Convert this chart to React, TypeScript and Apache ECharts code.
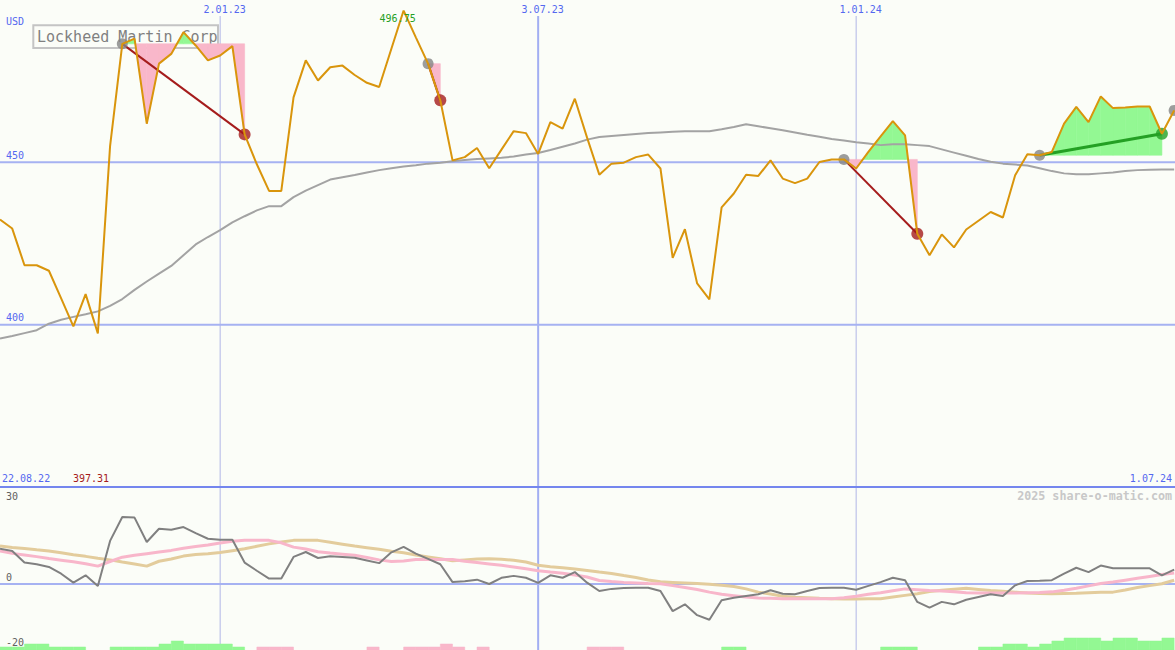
import React, { useEffect, useRef } from "react";
import * as echarts from "echarts";

// ---------- data ----------
const TITLE = "Lockheed Martin Corp";
const CURRENCY = "USD";
const WATERMARK = "2025 share-o-matic.com";
const FIRST_WEEK = "2022-08-29"; // date of the first weekly point
const PERIOD_START_LABEL = "22.08.22";
const PERIOD_END = "2024-07-01";
const PERIOD_END_LABEL = "1.07.24";
const DATE_TICKS = ["2023-01-02", "2023-07-03", "2024-01-01"];
const DATE_TICK_LABELS = ["2.01.23", "3.07.23", "1.01.24"];
const PRICE_TICKS = [450, 400];
const IND_TICKS = [30, 0, -20];

// weekly close
const PRICE = [
  432.4, 429.6, 418.3, 418.3, 416.6, 408.1, 399.5, 409.4, 397.31, 455.0,
  486.5, 488.1, 461.9, 480.4, 483.4, 490.1, 486.0, 481.4, 482.9, 485.8,
  458.6, 449.4, 441.2, 441.2, 470.0, 481.4, 475.2, 479.3, 479.8, 476.9,
  474.5, 473.2, 485.0, 496.75, 488.5, 480.4, 469.1, 450.6, 451.6, 454.4,
  448.2, 453.9, 459.6, 459.0, 452.6, 462.4, 460.4, 469.6, 457.6, 446.2,
  449.6, 449.9, 451.6, 452.4, 448.1, 420.6, 429.4, 412.7, 407.8, 436.1,
  440.4, 446.2, 445.8, 450.6, 445.0, 443.6, 445.0, 450.1, 450.9, 450.9,
  448.1, 453.2, 458.0, 462.7, 458.3, 428.0, 421.4, 427.8, 423.8, 429.3,
  432.0, 434.7, 433.0, 446.0, 452.5, 452.2, 453.2, 461.9, 467.1, 462.4,
  470.3, 466.7, 466.9, 467.2, 467.2, 458.8, 466.0,
];

// long moving average (grey)
const MOVING_AVG = [
  395.7, 396.5, 397.4, 398.3, 400.3, 401.5, 402.4, 403.2, 404.1, 405.8,
  407.9, 410.7, 413.3, 415.7, 418.1, 421.4, 424.7, 427.0, 429.1, 431.5,
  433.4, 435.2, 436.5, 436.5, 439.3, 441.3, 443.0, 444.7, 445.4, 446.1,
  446.9, 447.6, 448.2, 448.7, 449.1, 449.6, 449.9, 450.3, 450.7, 451.0,
  451.2, 451.4, 451.8, 452.4, 452.9, 453.8, 454.8, 455.8, 457.0, 457.8,
  458.1, 458.4, 458.7, 459.0, 459.2, 459.4, 459.6, 459.6, 459.6, 460.2,
  460.9, 461.7, 461.1, 460.5, 459.9, 459.2, 458.5, 457.9, 457.2, 456.7,
  456.2, 455.8, 455.3, 455.6, 455.6, 455.3, 455.0, 454.0, 453.0, 452.0,
  451.0, 450.2, 449.6, 449.3, 449.0, 448.2, 447.3, 446.6, 446.3, 446.3,
  446.6, 446.9, 447.3, 447.6, 447.7, 447.8, 447.8,
];

// lower panel: momentum (grey), fast average (pink), slow average (tan)
const MOMENTUM = [
  13.0, 12.2, 7.9, 7.3, 6.3, 3.8, 0.5, 3.2, -0.7, 15.9,
  24.7, 24.5, 15.5, 20.4, 20.0, 21.0, 18.8, 16.7, 16.3, 16.3,
  7.9, 4.9, 2.0, 2.0, 10.0, 11.8, 9.6, 10.2, 10.0, 9.7,
  8.7, 7.7, 11.7, 13.7, 11.2, 9.3, 7.3, 0.7, 1.0, 1.6,
  0.0, 2.3, 3.0, 2.3, 0.4, 3.2, 2.3, 4.4, 0.5, -2.6,
  -1.8, -1.5, -1.4, -1.4, -2.6, -10.0, -7.5, -11.5, -13.2, -6.0,
  -5.1, -4.4, -3.8, -2.3, -3.6, -3.8, -2.6, -1.5, -1.4, -1.4,
  -2.1, -0.7, 0.7, 2.3, 1.4, -6.6, -8.7, -6.6, -7.5, -5.8,
  -4.8, -3.8, -4.4, -0.5, 1.1, 1.2, 1.4, 3.8, 6.0, 4.4,
  6.8, 5.8, 5.8, 5.8, 5.8, 3.2, 5.3,
];
const MOMENTUM_FAST = [
  12.2, 11.3, 10.7, 10.1, 9.4, 8.8, 8.2, 7.5, 6.6, 8.3,
  9.9, 10.6, 11.2, 11.8, 12.4, 13.2, 13.8, 14.4, 15.1, 15.8,
  16.1, 16.1, 16.1, 15.2, 13.6, 12.9, 11.9, 11.4, 11.0, 10.6,
  9.8, 8.9, 8.3, 8.5, 9.0, 9.0, 9.0, 9.0, 8.4, 7.9,
  7.4, 6.9, 6.3, 5.6, 4.9, 4.4, 4.0, 3.3, 2.6, 1.3,
  0.9, 0.6, 0.4, 0.2, 0.1, -0.6, -1.3, -2.0, -3.0, -3.8,
  -4.3, -4.8, -5.2, -5.3, -5.4, -5.4, -5.4, -5.4, -5.4, -5.1,
  -4.5, -3.8, -3.2, -2.5, -1.8, -2.1, -2.4, -2.6, -2.9, -3.2,
  -3.3, -3.3, -3.3, -3.3, -3.2, -3.1, -2.9, -2.3, -1.6, -0.7,
  0.2, 0.7, 1.4, 2.1, 2.8, 3.5, 4.1,
];
const MOMENTUM_SLOW = [
  14.0, 13.5, 13.1, 12.6, 12.2, 11.5, 10.8, 10.2, 9.5, 8.9,
  8.1, 7.4, 6.6, 8.4, 9.2, 10.3, 10.9, 11.2, 11.6, 12.3,
  13.0, 13.9, 14.8, 15.5, 16.1, 16.1, 16.1, 15.4, 14.7, 14.0,
  13.4, 12.8, 12.1, 11.5, 10.7, 10.0, 9.3, 8.6, 8.9, 9.2,
  9.3, 9.1, 8.8, 8.1, 6.9, 6.4, 6.0, 5.5, 5.0, 4.4,
  3.9, 3.1, 2.4, 1.5, 0.8, 0.6, 0.4, 0.2, -0.1, -0.5,
  -0.9, -1.8, -3.0, -3.7, -4.5, -4.9, -5.1, -5.3, -5.4, -5.5,
  -5.5, -5.4, -5.4, -4.8, -4.2, -3.6, -2.8, -2.3, -1.9, -1.6,
  -2.0, -2.4, -2.7, -3.0, -3.3, -3.5, -3.6, -3.5, -3.4, -3.2,
  -3.0, -3.0, -2.2, -1.3, -0.6, 0.1, 1.4,
];
// signal strength per week interval (+ green, - pink)
const SIGNAL_BARS = [
  1, 1, 2, 2, 1, 1, 1, 0, 0, 1,
  1, 1, 1, 2, 3, 2, 2, 2, 2, 1,
  0, -1, -1, -1, 0, 0, 0, 0, 0, 0,
  -1, 0, 0, -1, -1, -1, -2, -1, 0, -1,
  0, 0, 0, 0, 0, 0, 0, 0, -1, -1,
  -1, 0, 0, 0, 0, 0, 0, 0, 0, 1,
  1, 0, 0, 0, 0, 0, 0, 0, 0, 0,
  0, 0, 1, 1, 1, 0, 0, 0, 0, 0,
  1, 1, 2, 2, 1, 2, 3, 4, 4, 4,
  3, 4, 4, 3, 3, 4,
];
// trades: week index of entry and exit
const TRADE_ENTRIES = [10, 35, 69, 85];
const TRADE_EXITS = [20, 36, 75, 95];
const OPEN_ENTRIES = [96];

// ---------- styles ----------
const BG = "#fbfdf8";
const ORANGE = "#d9950c";
const MA_GREY = "#a3a3a3";
const MOM_GREY = "#808080";
const PINK_LINE = "#f8b6ca";
const TAN_LINE = "#e3cc9c";
const FILL_GREEN = "#93f893";
const FILL_PINK = "#f9b7ca";
const GRID_BLUE = "#a6b2f2";
const SEP_BLUE = "#7486ee";
const LABEL_BLUE = "#5468f0";
const LOSS_RED = "#a51c1c";
const GAIN_GREEN = "#24a024";
const MONO = '"DejaVu Sans Mono", monospace';

const DAY = 86400000;
const weekOf = (d: string) => (Date.parse(d) - Date.parse(FIRST_WEEK)) / (7 * DAY);

export default function App() {
  const ref = useRef<HTMLDivElement>(null);

  useEffect(() => {
    const chart = echarts.init(ref.current!, null, { renderer: "svg" });
    const xMax = weekOf(PERIOD_END) + 0.07;
    const pts = (arr: number[]) => arr.map((v, i) => [i, v]);

    const fillRender = (params: any, api: any) => {
      const e = api.value(0);
      const x = api.value(1);
      const level = api.value(2);
      const children: any[] = [];
      const poly = (p: number[][], pos: boolean) => {
        const c = pos ? FILL_GREEN : FILL_PINK;
        children.push({
          type: "polygon",
          shape: { points: p.map((q) => api.coord(q)) },
          style: { fill: c, stroke: c, lineWidth: 0.6 },
        });
      };
      for (let j = e; j < x; j++) {
        const a = PRICE[j] - level;
        const b = PRICE[j + 1] - level;
        if ((a >= 0 && b >= 0) || (a <= 0 && b <= 0)) {
          poly([[j, level], [j, PRICE[j]], [j + 1, PRICE[j + 1]], [j + 1, level]], a + b > 0);
        } else {
          const xc = j + a / (a - b);
          poly([[j, level], [j, PRICE[j]], [xc, level]], a > 0);
          poly([[xc, level], [j + 1, PRICE[j + 1]], [j + 1, level]], b > 0);
        }
      }
      return { type: "group", children };
    };

    const barRender = (params: any, api: any) => {
      const k = api.value(0);
      const lvl = api.value(1);
      const p0 = api.coord([k, 0]);
      const p1 = api.coord([k + 1, Math.abs(lvl)]);
      return {
        type: "rect",
        shape: { x: p0[0], y: p1[1], width: p1[0] - p0[0], height: p0[1] - p1[1] },
        style: { fill: lvl > 0 ? FILL_GREEN : FILL_PINK, stroke: lvl > 0 ? FILL_GREEN : FILL_PINK, lineWidth: 0.5 },
      };
    };

    const tradeLines = TRADE_ENTRIES.map((e, t) => {
      const x = TRADE_EXITS[t];
      const gain = PRICE[x] > PRICE[e];
      return {
        type: "line",
        xAxisIndex: 0,
        yAxisIndex: 0,
        z: 3,
        data: [[e, PRICE[e]], [x, PRICE[x]]],
        showSymbol: false,
        silent: true,
        lineStyle: { color: gain ? GAIN_GREEN : LOSS_RED, width: gain ? 3 : 2 },
      };
    });

    const option: any = {
      animation: false,
      backgroundColor: BG,
      grid: [
        { left: 0, right: 0, top: 0, height: 487 },
        { left: 0, right: 0, top: 487, height: 163 },
      ],
      xAxis: [
        { type: "value", gridIndex: 0, min: 0, max: xMax, show: false },
        { type: "value", gridIndex: 1, min: 0, max: xMax, show: false },
      ],
      yAxis: [
        { type: "value", gridIndex: 0, min: 350, max: 500, show: false },
        { type: "value", gridIndex: 1, min: -24.35, max: 35.79, show: false },
        { type: "value", gridIndex: 1, min: 0, max: 54.33, show: false },
      ],
      series: [
        {
          type: "custom",
          xAxisIndex: 0,
          yAxisIndex: 0,
          z: 1,
          silent: true,
          renderItem: fillRender,
          encode: { x: [0, 1], y: 2 },
          data: TRADE_ENTRIES.map((e, t) => [e, TRADE_EXITS[t], PRICE[e]]),
        },
        {
          type: "line",
          xAxisIndex: 0,
          yAxisIndex: 0,
          z: 2,
          data: pts(MOVING_AVG),
          showSymbol: false,
          silent: true,
          lineStyle: { color: MA_GREY, width: 2 },
        },
        ...tradeLines,
        {
          type: "scatter",
          xAxisIndex: 0,
          yAxisIndex: 0,
          z: 4,
          symbol: "circle",
          symbolSize: 11,
          silent: true,
          itemStyle: { color: "#858585" },
          data: [...TRADE_ENTRIES, ...OPEN_ENTRIES].map((e) => [e, PRICE[e]]),
        },
        {
          type: "scatter",
          xAxisIndex: 0,
          yAxisIndex: 0,
          z: 4,
          symbol: "circle",
          symbolSize: 12,
          silent: true,
          data: TRADE_EXITS.map((x, t) => ({
            value: [x, PRICE[x]],
            itemStyle: { color: PRICE[x] > PRICE[TRADE_ENTRIES[t]] ? GAIN_GREEN : LOSS_RED },
          })),
        },
        {
          type: "line",
          xAxisIndex: 0,
          yAxisIndex: 0,
          z: 5,
          data: pts(PRICE),
          showSymbol: false,
          silent: true,
          lineStyle: { color: ORANGE, width: 2 },
        },
        {
          type: "custom",
          xAxisIndex: 1,
          yAxisIndex: 2,
          z: 1,
          silent: true,
          renderItem: barRender,
          encode: { x: 0, y: 1 },
          data: SIGNAL_BARS.map((v, k) => [k, v]).filter((d) => d[1] !== 0),
        },
        {
          type: "line",
          xAxisIndex: 1,
          yAxisIndex: 1,
          z: 2,
          data: pts(MOMENTUM_SLOW),
          showSymbol: false,
          silent: true,
          lineStyle: { color: TAN_LINE, width: 3 },
        },
        {
          type: "line",
          xAxisIndex: 1,
          yAxisIndex: 1,
          z: 2,
          data: pts(MOMENTUM_FAST),
          showSymbol: false,
          silent: true,
          lineStyle: { color: PINK_LINE, width: 3 },
        },
        {
          type: "line",
          xAxisIndex: 1,
          yAxisIndex: 1,
          z: 3,
          data: pts(MOMENTUM),
          showSymbol: false,
          silent: true,
          lineStyle: { color: MOM_GREY, width: 2 },
        },
      ],
    };
    chart.setOption(option);

    const X = (w: number) => chart.convertToPixel({ xAxisIndex: 0 }, w) as number;
    const Y = (v: number) => chart.convertToPixel({ yAxisIndex: 0 }, v) as number;
    const Y1 = (v: number) => chart.convertToPixel({ yAxisIndex: 1 }, v) as number;
    const W = 1175;
    const H = 650;
    const text = (t: string, x: number, y: number, fill: string, align = "left", extra: any = {}) => ({
      type: "text",
      x,
      y,
      z: 10,
      silent: true,
      style: { text: t, fill, fontFamily: MONO, fontSize: 10, align, verticalAlign: "middle", ...extra },
    });
    const hline = (y: number, color: string) => ({
      type: "line",
      z: 0,
      silent: true,
      shape: { x1: 0, y1: y, x2: W, y2: y },
      style: { stroke: color, lineWidth: 2 },
    });

    const maxIdx = PRICE.indexOf(Math.max(...PRICE));
    const minIdx = PRICE.indexOf(Math.min(...PRICE));
    const elements: any[] = [];
    DATE_TICKS.forEach((d, i) => {
      const x = X(weekOf(d));
      const mid = d.slice(5, 7) === "07";
      elements.push({
        type: "line",
        z: 0,
        silent: true,
        shape: { x1: x, y1: 16, x2: x, y2: H },
        style: { stroke: mid ? "#a2aef2" : "#b0b6e6", lineWidth: mid ? 2 : 1 },
      });
      elements.push(text(DATE_TICK_LABELS[i], x + 4.5, 9, LABEL_BLUE, "center"));
    });
    PRICE_TICKS.forEach((v) => {
      elements.push(hline(Y(v), GRID_BLUE));
      elements.push(text(String(v), 6, Y(v) - 6.8, LABEL_BLUE));
    });
    elements.push(hline(Y(350), SEP_BLUE));
    elements.push(hline(Y1(0), GRID_BLUE));
    IND_TICKS.forEach((v) => {
      const y = v === IND_TICKS[IND_TICKS.length - 1] ? H - 8 : Y1(v) - 6.3;
      elements.push(text(String(v), 6, y, "#606060"));
    });
    elements.push(text(CURRENCY, 6, 21, LABEL_BLUE));
    elements.push(text(PERIOD_START_LABEL, 2, 478.5, LABEL_BLUE));
    elements.push(text(PERIOD_END_LABEL, 1172, 478.5, LABEL_BLUE, "right"));
    elements.push(text(PRICE[minIdx].toFixed(2), X(minIdx) - 6.8, 478.5, LOSS_RED, "center"));
    elements.push(text(PRICE[maxIdx].toFixed(2), X(maxIdx) - 6, Y(PRICE[maxIdx]) + 8.3, GAIN_GREEN, "center"));
    elements.push({
      type: "rect",
      z: 0,
      silent: true,
      shape: { x: 33.3, y: 25.3, width: 184.7, height: 22.7 },
      style: { fill: "rgba(0,0,0,0)", stroke: "#c4c4c4", lineWidth: 2 },
    });
    elements.push({
      type: "text",
      z: 0,
      silent: true,
      x: 37,
      y: 36.5,
      style: { text: TITLE, fill: "#808080", fontFamily: MONO, fontSize: 15, align: "left", verticalAlign: "middle" },
    });
    elements.push(text(WATERMARK, 1172, 496, "#c8c8c8", "right", { fontSize: 11.7, fontWeight: "bold" }));

    chart.setOption({ graphic: { elements } });

    return () => chart.dispose();
  }, []);

  return (
    <div
      ref={ref}
      style={{ position: "fixed", left: 0, top: 0, width: 1175, height: 650 }}
    />
  );
}
